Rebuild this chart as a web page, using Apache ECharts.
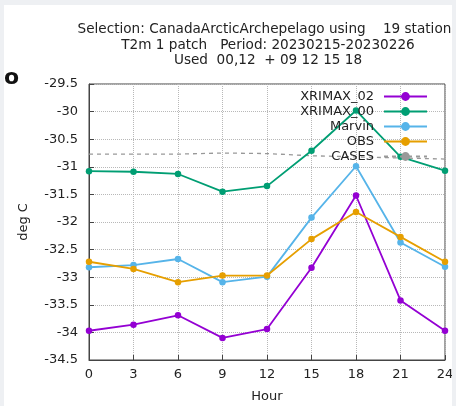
<!DOCTYPE html>
<html>
<head>
<meta charset="utf-8">
<script src="https://cdn.jsdelivr.net/npm/echarts@6/dist/echarts.min.js"></script>
<style>
	html, body { margin: 0; padding: 0; background: #eef0f3; }
	#chart { position: absolute; left: 4px; top: 5px; width: 448px; height: 401px; background: #fff; }
</style>
</head>
<body>
<div id="chart"></div>
<script>
// 数据
var hours = [0, 3, 6, 9, 12, 15, 18, 21, 24]
var xrimax02 = [-33.97, -33.86, -33.69, -34.10, -33.94, -32.83, -31.52, -33.42, -33.97]
var xrimax00 = [-31.08, -31.09, -31.13, -31.45, -31.35, -30.71, -29.98, -30.82, -31.07]
var marvin = [-32.82, -32.78, -32.67, -33.09, -32.99, -31.92, -30.99, -32.37, -32.81]
var obs = [-32.72, -32.85, -33.09, -32.97, -32.97, -32.31, -31.82, -32.27, -32.72]
var cases = [-30.77, -30.77, -30.77, -30.75, -30.76, -30.80, -30.82, -30.84, -30.86]
var names = ['XRIMAX_02', 'XRIMAX_00', 'Marvin', 'OBS', 'CASES']
var colors = ['#9400d3', '#009e73', '#56b4e9', '#e69f00', '#999999']

var font = 'DejaVu Sans'

function pairs(vals) {
	return hours.map(function (h, i) {
		return [h, vals[i]]
	})
}

function lineSeries(name, vals, color) {
	return {
		name: name,
		type: 'line',
		data: pairs(vals),
		symbol: 'circle',
		symbolSize: 6.5,
		lineStyle: { color: color, width: 1.8 },
		itemStyle: { color: color },
		emphasis: { disabled: true }
	}
}

var myChart = echarts.init(document.getElementById('chart'))
myChart.setOption({
	animation: false,
	textStyle: { fontFamily: font },
	title: {
		text: 'Selection: CanadaArcticArchepelago using    19 stations\nT2m 1 patch   Period: 20230215-20230226\nUsed  00,12  + 09 12 15 18',
		left: 259,
		top: 12,
		textAlign: 'center',
		textStyle: { fontSize: 13.6, fontWeight: 'normal', color: '#222', lineHeight: 15.5, fontFamily: font }
	},
	legend: {
		orient: 'vertical',
		left: 288,
		top: 79,
		align: 'right',
		itemWidth: 43,
		itemHeight: 11,
		itemGap: 0,
		data: names,
		textStyle: { fontSize: 13, color: '#222', width: 77, height: 15, lineHeight: 15, align: 'right', padding: [0, 5, 0, 0], fontFamily: font }
	},
	grid: {
		left: 85,
		right: 7,
		top: 79,
		bottom: 46,
		outerBoundsMode: 'none',
		show: true,
		borderColor: '#444',
		borderWidth: 1
	},
	xAxis: {
		type: 'value',
		min: 0,
		max: 24,
		interval: 3,
		name: 'Hour',
		nameLocation: 'middle',
		nameGap: 30,
		nameTextStyle: { fontSize: 13, color: '#222' },
		axisLine: { lineStyle: { color: '#444' } },
		axisTick: { inside: true, length: 5, lineStyle: { color: '#444' } },
		axisLabel: { fontSize: 13, color: '#222', margin: 8 },
		splitLine: { show: true, lineStyle: { type: 'dotted', color: '#b8b8b8' } }
	},
	yAxis: {
		type: 'value',
		min: -34.5,
		max: -29.5,
		interval: 0.5,
		name: 'deg C',
		nameLocation: 'middle',
		nameGap: 59,
		nameTextStyle: { fontSize: 13, color: '#222' },
		axisLine: { show: true, lineStyle: { color: '#444' } },
		axisTick: { show: true, inside: true, length: 5, lineStyle: { color: '#444' } },
		axisLabel: { fontSize: 13, color: '#222', margin: 11 },
		splitLine: { show: true, lineStyle: { type: 'dotted', color: '#b8b8b8' } }
	},
	graphic: [
		{ type: 'text', left: 0, top: 62, style: { text: 'o', fontSize: 22, fontWeight: 'bold', fill: '#111', fontFamily: font } }
	],
	series: [
		lineSeries(names[0], xrimax02, colors[0]),
		lineSeries(names[1], xrimax00, colors[1]),
		lineSeries(names[2], marvin, colors[2]),
		lineSeries(names[3], obs, colors[3]),
		{
			name: names[4],
			type: 'line',
			data: pairs(cases),
			symbol: 'none',
			z: 1,
			lineStyle: { color: colors[4], width: 1.3, type: [4, 4] },
			itemStyle: { color: colors[4] },
			emphasis: { disabled: true }
		}
	]
})
</script>
</body>
</html>
